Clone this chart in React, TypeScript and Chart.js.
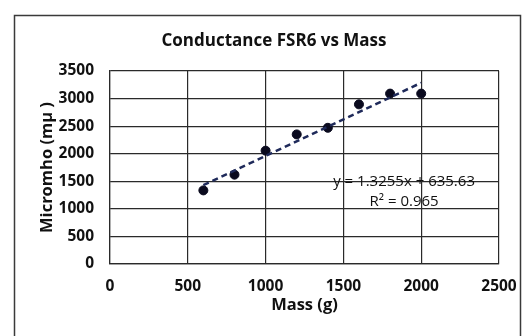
import React, { useEffect, useRef } from "react";
import { Chart, registerables } from "chart.js";

Chart.register(...registerables);

const titleText = "Conductance FSR6 vs Mass";
const xAxisTitle = "Mass (g)";
const yAxisTitle = "Micromho (mμ )";
const massValues = [600, 800, 1000, 1200, 1400, 1600, 1800, 2000];
const conductanceValues = [1335, 1620, 2055, 2350, 2470, 2895, 3090, 3090];
const trendSlope = 1.3255;
const trendIntercept = 635.63;
const equationText = "y = 1.3255x + 635.63";
const r2Text = "R² = 0.965";
const xTicks = [0, 500, 1000, 1500, 2000, 2500];
const yTicks = [0, 500, 1000, 1500, 2000, 2500, 3000, 3500];

const FONT = "'Open Sans', 'Liberation Sans', sans-serif";

export default function App() {
  const ref = useRef<HTMLCanvasElement | null>(null);

  useEffect(() => {
    document.body.style.margin = "0";
    const canvas = ref.current;
    if (!canvas) return;

    const trendX = [massValues[0], massValues[massValues.length - 1]];
    const trendData = trendX.map((x) => ({ x, y: trendSlope * x + trendIntercept }));
    const pointData = massValues.map((x, i) => ({ x, y: conductanceValues[i] }));

    const decorPlugin = {
      id: "decor",
      beforeDraw(chart: any) {
        const ctx = chart.ctx;
        ctx.save();
        ctx.fillStyle = "#ffffff";
        ctx.fillRect(0, 0, chart.width, chart.height);
        ctx.strokeStyle = "#3a3a3a";
        ctx.lineWidth = 1.5;
        ctx.strokeRect(14.5, 15.5, 506, 340);
        ctx.fillStyle = "#111111";
        ctx.font = `bold 17px ${FONT}`;
        ctx.textAlign = "center";
        ctx.textBaseline = "middle";
        ctx.fillText(titleText, 274, 41);
        ctx.restore();
      },
      afterDatasetsDraw(chart: any) {
        const ctx = chart.ctx;
        const xs = chart.scales.x;
        const ys = chart.scales.y;
        ctx.save();
        ctx.fillStyle = "#111111";
        ctx.font = `15px ${FONT}`;
        ctx.textAlign = "center";
        ctx.textBaseline = "middle";
        const cx = xs.getPixelForValue(1890);
        ctx.fillText(equationText, cx, ys.getPixelForValue(1500));
        ctx.fillText(r2Text, cx, ys.getPixelForValue(1135));
        ctx.restore();
      },
    };

    const tickFont = { family: FONT, size: 15.5, weight: "bold" as const };
    const axisTitleFont = { family: FONT, size: 16.5, weight: "bold" as const };

    const chart = new Chart(canvas, {
      type: "scatter",
      data: {
        datasets: [
          {
            label: "trend",
            data: trendData,
            showLine: true,
            borderColor: "#1f2a5a",
            borderWidth: 2.5,
            borderDash: [6, 4],
            pointRadius: 0,
            fill: false,
          },
          {
            label: "data",
            data: pointData,
            backgroundColor: "#0a0a1e",
            borderColor: "#0a0a1e",
            pointRadius: 4.5,
            pointHoverRadius: 4.5,
          },
        ],
      },
      options: {
        animation: false,
        responsive: false,
        maintainAspectRatio: false,
        layout: { padding: { left: 0, top: 71, right: 28, bottom: 0 } },
        plugins: {
          legend: { display: false },
          title: { display: false },
          tooltip: { enabled: false },
        },
        scales: {
          x: {
            type: "linear",
            min: 0,
            max: 2500,
            afterBuildTicks: (s: any) => {
              s.ticks = xTicks.map((v) => ({ value: v }));
            },
            afterFit: (s: any) => {
              s.height = 72;
            },
            grid: { color: "#2a2a2a", lineWidth: 1.2, drawTicks: true, tickLength: 9, tickColor: "rgba(0,0,0,0)" },
            border: { color: "#2a2a2a", width: 1.2 },
            ticks: {
              padding: 4,
              color: "#111111",
              font: tickFont,
              callback: (v: any) => String(v),
            },
            title: {
              display: true,
              text: xAxisTitle,
              color: "#111111",
              font: axisTitleFont,
              padding: { top: 0, bottom: 21 },
            },
          },
          y: {
            type: "linear",
            min: 0,
            max: 3500,
            afterBuildTicks: (s: any) => {
              s.ticks = yTicks.map((v) => ({ value: v }));
            },
            afterFit: (s: any) => {
              s.width = 110;
            },
            grid: { color: "#2a2a2a", lineWidth: 1.2, drawTicks: false },
            border: { color: "#2a2a2a", width: 1.2 },
            ticks: {
              padding: 16,
              color: "#111111",
              font: tickFont,
              callback: (v: any) => String(v),
            },
            title: {
              display: true,
              text: yAxisTitle,
              color: "#111111",
              font: axisTitleFont,
              padding: { top: 37, bottom: 0 },
            },
          },
        },
      },
      plugins: [decorPlugin],
    });

    return () => chart.destroy();
  }, []);

  return (
    <div style={{ position: "absolute", left: 0, top: 0, width: 527, height: 336 }}>
      <canvas ref={ref} width={527} height={336} style={{ width: 527, height: 336, display: "block" }} />
    </div>
  );
}
